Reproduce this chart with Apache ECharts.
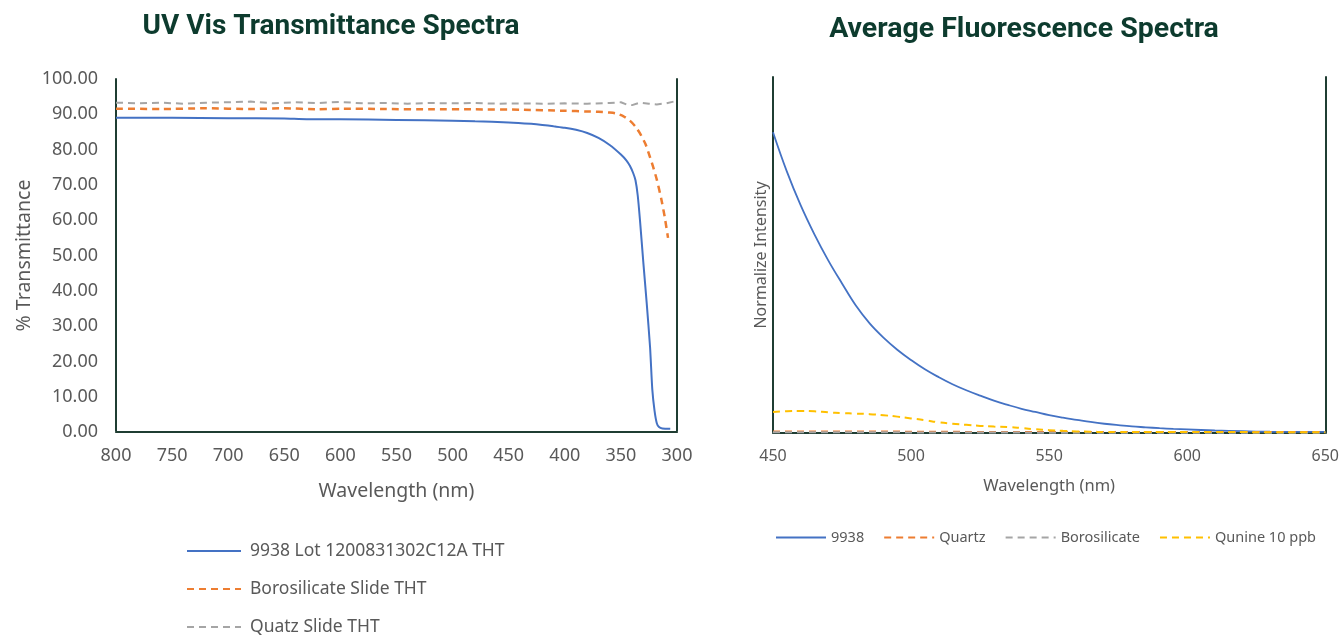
<!DOCTYPE html>
<html><head><meta charset="utf-8">
<script src="https://cdn.jsdelivr.net/npm/echarts@6/dist/echarts.min.js"></script>
<style>html,body{margin:0;padding:0;background:#fff}#c{width:1342px;height:635px}</style>
</head><body><div id="c"></div>
<script>
// ---------- Left chart: UV Vis Transmittance ----------
const uvTicks = [800,750,700,650,600,550,500,450,400,350,300];
const lotName = '9938 Lot 1200831302C12A THT';
const boroSlideName = 'Borosilicate Slide THT';
const quatzSlideName = 'Quatz Slide THT';
const lotData = [[800,89.0],[750,89.0],[700,88.9],[650,88.8],[630,88.6],[600,88.6],[550,88.4],[500,88.2],[480,88.0],[450,87.7],[430,87.3],[420,87.0],[410,86.6],[400,86.2],[390,85.6],[380,84.7],[370,83.3],[360,81.3],[350,78.6],[345,76.9],[342,75.4],[339,73.3],[337,71.3],[335,67],[333,60],[330,48],[327,36.5],[324,24],[322,12],[320,6],[318,2.5],[316,1.4],[313,1.0],[306,0.9]];
const boroSlideData = [[800,91.6],[760,91.5],[720,91.7],[680,91.5],[650,91.7],[620,91.4],[600,91.6],[560,91.5],[520,91.4],[480,91.4],[440,91.3],[400,91.0],[380,90.8],[370,90.7],[360,90.5],[355,90.3],[348,89.5],[342,88.2],[337,86.5],[333,84.6],[328,81.5],[324,77.8],[321,74.8],[318,71.5],[314,66],[311,61],[308,55]];
const quatzSlideData = [[800,93.3],[780,93.1],[760,93.3],[740,93.0],[720,93.3],[700,93.4],[680,93.6],[660,93.1],[640,93.4],[620,93.2],[600,93.5],[580,93.1],[560,93.2],[540,93.0],[520,93.2],[500,93.1],[480,93.2],[460,93.0],[440,93.1],[420,93.0],[400,93.1],[380,93.0],[360,93.2],[350,93.4],[345,92.8],[340,92.6],[333,93.3],[325,93.0],[318,92.8],[310,93.1],[303,93.6]];

// ---------- Right chart: Average Fluorescence ----------
const flTicks = [450,500,550,600,650];
const wl = [450,455,460,465,470,475,480,485,490,495,500,505,510,515,520,525,530,535,540,545,550,555,560,565,570,575,580,585,590,595,600,610,620,630,640,650];
const s9938 = [84.5,73.5,64.0,55.8,48.5,42.0,35.8,30.8,26.8,23.4,20.5,17.9,15.7,13.7,12.0,10.5,9.1,7.9,6.8,5.9,5.0,4.3,3.7,3.1,2.6,2.2,1.85,1.6,1.35,1.15,1.0,0.7,0.5,0.35,0.3,0.3];
const quartz = [0.4,0.4,0.4,0.4,0.4,0.4,0.4,0.4,0.4,0.4,0.35,0.35,0.35,0.35,0.3,0.3,0.3,0.3,0.3,0.3,0.3,0.3,0.3,0.3,0.3,0.3,0.3,0.3,0.3,0.3,0.3,0.3,0.3,0.3,0.3,0.3];
const borosilicate = [0.2,0.2,0.2,0.2,0.2,0.2,0.2,0.2,0.2,0.2,0.15,0.15,0.15,0.15,0.15,0.15,0.15,0.15,0.1,0.1,0.1,0.1,0.1,0.1,0.1,0.1,0.1,0.1,0.1,0.1,0.1,0.1,0.1,0.1,0.1,0.1];
const qunine = [5.9,6.1,6.2,6.1,5.8,5.6,5.45,5.3,5.0,4.6,4.1,3.6,3.0,2.6,2.3,2.0,1.8,1.7,1.4,1.05,0.8,0.6,0.45,0.35,0.3,0.3,0.3,0.3,0.3,0.3,0.3,0.25,0.25,0.2,0.2,0.2];

const FONT = 'Noto Sans';
const GRAY = '#595959';
const FRAME = '#1f3d32';
const BASE = '#d9d9d9';
const C_BLUE = '#4472C4', C_ORANGE = '#ED7D31', C_GRAY = '#A5A5A5', C_YELLOW = '#FFC000';

const chart = echarts.init(document.getElementById('c'));
function lineSeries(name, data, color, dashed, xi, yi, width, smooth) {
  return {
    type: 'line', name, data, xAxisIndex: xi, yAxisIndex: yi, symbol: 'none', showSymbol: false,
    smooth: smooth || false,
    itemStyle: {color},
    lineStyle: {color, width: width || 2, type: dashed ? [7,5] : 'solid'},
    animation: false, z: 3
  };
}
const legendLeftBase = {left: 181, orient: 'horizontal', itemWidth: 54, itemHeight: 14, itemGap: 10,
  itemStyle: {opacity: 0},
  textStyle: {fontFamily: FONT, fontSize: 17.5, color: GRAY, padding: [0,0,0,4]}};

chart.setOption({
  animation: false,
  textStyle: {fontFamily: FONT},
  title: [
    {text: 'UV Vis Transmittance Spectra', left: 326, top: 8, textAlign: 'center',
     textStyle: {fontFamily: 'Roboto', fontWeight: 'bold', fontSize: 28, color: '#0d3b2e'}},
    {text: 'Average Fluorescence Spectra', left: 1019, top: 10, textAlign: 'center',
     textStyle: {fontFamily: 'Roboto', fontWeight: 'bold', fontSize: 28.5, color: '#0d3b2e'}}
  ],
  grid: [
    {left: 116, top: 79, width: 561, height: 353},
    {left: 773, top: 77, width: 555, height: 356}
  ],
  xAxis: [
    {gridIndex: 0, type: 'value', min: 300, max: 800, interval: 50, inverse: true,
     axisLine: {show: true, lineStyle: {color: BASE, width: 2}}, axisTick: {show: false}, splitLine: {show: false},
     axisLabel: {fontFamily: FONT, fontSize: 18, color: GRAY, margin: 15},
     name: 'Wavelength (nm)', nameLocation: 'middle', nameGap: 49,
     nameTextStyle: {fontFamily: FONT, fontSize: 19.5, color: GRAY}},
    {gridIndex: 0, type: 'value', min: 300, max: 800, position: 'top', inverse: true,
     axisLine: {show: true, lineStyle: {color: FRAME, width: 2}}, axisTick: {show: false}, axisLabel: {show: false}, splitLine: {show: false}},
    {gridIndex: 1, type: 'value', min: 450, max: 650, interval: 50,
     axisLine: {show: true, lineStyle: {color: BASE, width: 2}}, axisTick: {show: false}, splitLine: {show: false},
     axisLabel: {fontFamily: FONT, fontSize: 16, color: GRAY, margin: 15},
     name: 'Wavelength (nm)', nameLocation: 'middle', nameGap: 45,
     nameTextStyle: {fontFamily: FONT, fontSize: 16.5, color: GRAY}},
    {gridIndex: 1, type: 'value', min: 450, max: 650, position: 'top',
     axisLine: {show: true, lineStyle: {color: FRAME, width: 2}}, axisTick: {show: false}, axisLabel: {show: false}, splitLine: {show: false}}
  ],
  yAxis: [
    {gridIndex: 0, type: 'value', min: 0, max: 100, interval: 10,
     axisLine: {show: true, lineStyle: {color: FRAME, width: 2}}, axisTick: {show: false}, splitLine: {show: false},
     axisLabel: {fontFamily: FONT, fontSize: 18, color: GRAY, margin: 18, formatter: v => v.toFixed(2)},
     name: '% Transmittance', nameLocation: 'middle', nameGap: 82,
     nameTextStyle: {fontFamily: FONT, fontSize: 19.5, color: GRAY}},
    {gridIndex: 0, type: 'value', min: 0, max: 100, position: 'right',
     axisLine: {show: true, lineStyle: {color: FRAME, width: 2}}, axisTick: {show: false}, axisLabel: {show: false}, splitLine: {show: false}},
    {gridIndex: 1, type: 'value', min: 0, max: 100,
     axisLine: {show: true, lineStyle: {color: FRAME, width: 2}}, axisTick: {show: false}, splitLine: {show: false},
     axisLabel: {show: false},
     name: 'Normalize Intensity', nameLocation: 'middle', nameGap: 4,
     nameTextStyle: {fontFamily: FONT, fontSize: 16, color: GRAY}},
    {gridIndex: 1, type: 'value', min: 0, max: 100, position: 'right',
     axisLine: {show: true, lineStyle: {color: FRAME, width: 2}}, axisTick: {show: false}, axisLabel: {show: false}, splitLine: {show: false}}
  ],
  legend: [
    Object.assign({}, legendLeftBase, {top: 537, data: [lotName]}),
    Object.assign({}, legendLeftBase, {top: 575, data: [boroSlideName]}),
    Object.assign({}, legendLeftBase, {top: 613, data: [quatzSlideName]}),
    {left: 770, top: 525, orient: 'horizontal', itemWidth: 50, itemHeight: 14, itemGap: 19,
     itemStyle: {opacity: 0},
     data: ['9938','Quartz','Borosilicate','Qunine 10 ppb'],
     textStyle: {fontFamily: FONT, fontSize: 14.5, color: GRAY, padding: [0,0,0,0]}}
  ],
  series: [
    lineSeries(lotName, lotData, C_BLUE, false, 0, 0, 2, 0.2),
    lineSeries(boroSlideName, boroSlideData, C_ORANGE, true, 0, 0, 2.5, 0.2),
    lineSeries(quatzSlideName, quatzSlideData, C_GRAY, true, 0, 0, 2),
    lineSeries('9938', wl.map((w,i)=>[w,s9938[i]]), C_BLUE, false, 2, 2, 1.8, 0.4),
    lineSeries('Quartz', wl.map((w,i)=>[w,quartz[i]]), C_ORANGE, true, 2, 2, 2),
    lineSeries('Borosilicate', wl.map((w,i)=>[w,borosilicate[i]]), C_GRAY, true, 2, 2, 2),
    lineSeries('Qunine 10 ppb', wl.map((w,i)=>[w,qunine[i]]), C_YELLOW, true, 2, 2, 2, 0.4)
  ]
});
</script></body></html>
